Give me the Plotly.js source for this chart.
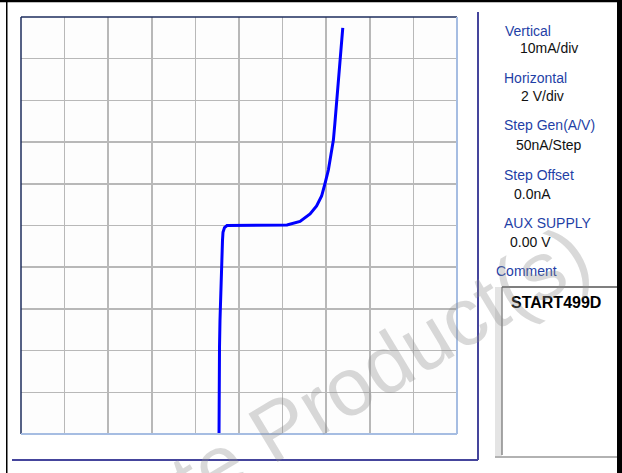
<!DOCTYPE html>
<html>
<head>
<meta charset="utf-8">
<script src="https://cdn.plot.ly/plotly-3.0.1.min.js"></script>
<style>
html,body{margin:0;padding:0;background:#fff;}
#chart{width:622px;height:473px;}
</style>
</head>
<body>
<div id="chart"></div>
<script>
// Curve trace (Horizontal: volts, Vertical: mA)
const voltage = [-0.917,-0.917,-0.894,-0.872,-0.849,-0.803,-0.780,-0.757,-0.734,-0.665,-0.55,0.05,1.42,2.20,2.80,3.26,3.56,3.79,3.94,4.10,4.22,4.33,4.40,4.48,4.56,4.63,4.71,4.76];
const current = [-50.0,-41.8,-29.1,-22.7,-17.9,-10.7,-5.9,-3.5,-1.6,-0.5,0,0,0.05,0.12,0.96,2.76,4.68,7.07,9.95,13.3,17.1,20.5,24.6,29.4,34.9,38.1,42.9,47.4];

// Settings panel text
const settingLabels = ["Vertical","Horizontal","Step Gen(A/V)","Step Offset","AUX SUPPLY"];
const settingValues = ["10mA/div","2 V/div","50nA/Step","0.0nA","0.00 V"];
const commentLabel = "Comment";
const commentText = "START499D";
const watermarkText = "Obsolete Product(s)";

// Axis scale (divisions)
const xRange = [-10, 10], xDiv = 2;
const yRange = [-50, 50], yDiv = 10;

// layout helpers (pixel -> paper)
const L = 21, R = 457, T = 17, B = 434;
const px = x => (x - L) / (R - L);
const py = y => (B - y) / (B - T);

const labelPos = [[505,30.5],[504,77.5],[504,125],[504,175],[504,222.5]];
const valuePos = [[520,48.5],[521,96],[516,144.5],[514,194],[510,242]];

const annotations = [];
settingLabels.forEach((t,i)=>annotations.push({
  text:t, xref:'paper', yref:'paper', x:px(labelPos[i][0]-2), y:py(labelPos[i][1]),
  xanchor:'left', yanchor:'middle', showarrow:false,
  font:{family:'Liberation Sans, Arial, sans-serif', size:14, color:'#1f3fa6'}
}));
settingValues.forEach((t,i)=>annotations.push({
  text:t, xref:'paper', yref:'paper', x:px(valuePos[i][0]-2), y:py(valuePos[i][1]),
  xanchor:'left', yanchor:'middle', showarrow:false,
  font:{family:'Liberation Sans, Arial, sans-serif', size:14, color:'#111111'}
}));
annotations.push({text:commentLabel, xref:'paper', yref:'paper', x:px(494), y:py(271),
  xanchor:'left', yanchor:'middle', showarrow:false,
  font:{family:'Liberation Sans, Arial, sans-serif', size:14, color:'#1f3fa6'}});
annotations.push({text:'<b>'+commentText+'</b>', xref:'paper', yref:'paper', x:px(509), y:py(302.5),
  xanchor:'left', yanchor:'middle', showarrow:false,
  font:{family:'Liberation Sans, Arial, sans-serif', size:16, color:'#000000'}});
annotations.push({text:watermarkText, xref:'paper', yref:'paper', x:px(268), y:py(434),
  xanchor:'center', yanchor:'middle', showarrow:false, textangle:-31,
  font:{family:'Liberation Sans, Arial, sans-serif', size:82, color:'rgba(140,140,140,0.33)'}});

const rect = (x0,y0,x1,y1,fill,layer) => ({type:'rect', xref:'paper', yref:'paper',
  x0:px(x0), x1:px(x1), y0:py(y0), y1:py(y1), fillcolor:fill, line:{width:0}, layer:layer||'above'});
const line = (x0,y0,x1,y1,color,w) => ({type:'line', xref:'paper', yref:'paper',
  x0:px(x0), x1:px(x1), y0:py(y0), y1:py(y1), line:{color:color, width:w}});

const shapes = [
  // plot border
  line(L,T,R,T,'#1c2c5c',1.5),
  line(L,T,L,B,'#1c2c5c',1.5),
  line(R,T,R,B,'#a6bde2',2),
  line(L,B,R,B,'#a6bde2',2),
  // outer frame
  line(478,12,478,460,'#45459c',2),
  line(12,460,478,460,'#45459c',2),
  // comment box
  rect(495,287,502,456,'#e4e4e4'),
  line(502,287,502,455,'#8a8a8a',1.5),
  line(502,287,617,287,'#555555',1.5),
  line(495,457,617,457,'#999999',1.5),
  // black window border
  rect(0,0,622,2.3,'#000000'),
  rect(6,0,7.5,473,'#000000'),
  rect(617,0,622,473,'#000000')
];

const data = [{
  x: voltage, y: current, type:'scatter', mode:'lines',
  line:{color:'#0000ff', width:3}, hoverinfo:'skip'
}];

const axisCommon = {showticklabels:false, ticks:'', zeroline:false, showline:false,
  showgrid:true, gridcolor:'#b8b8b8', gridwidth:1.5, fixedrange:true};

const layout = {
  width:622, height:473,
  margin:{l:L, r:622-R, t:T, b:473-B, pad:0},
  paper_bgcolor:'#ffffff', plot_bgcolor:'#fdfdfd',
  showlegend:false,
  xaxis:Object.assign({range:xRange, dtick:xDiv, tick0:0}, axisCommon),
  yaxis:Object.assign({range:yRange, dtick:yDiv, tick0:0}, axisCommon),
  annotations:annotations,
  shapes:shapes
};

Plotly.newPlot('chart', data, layout, {staticPlot:true, displayModeBar:false});
</script>
</body>
</html>
